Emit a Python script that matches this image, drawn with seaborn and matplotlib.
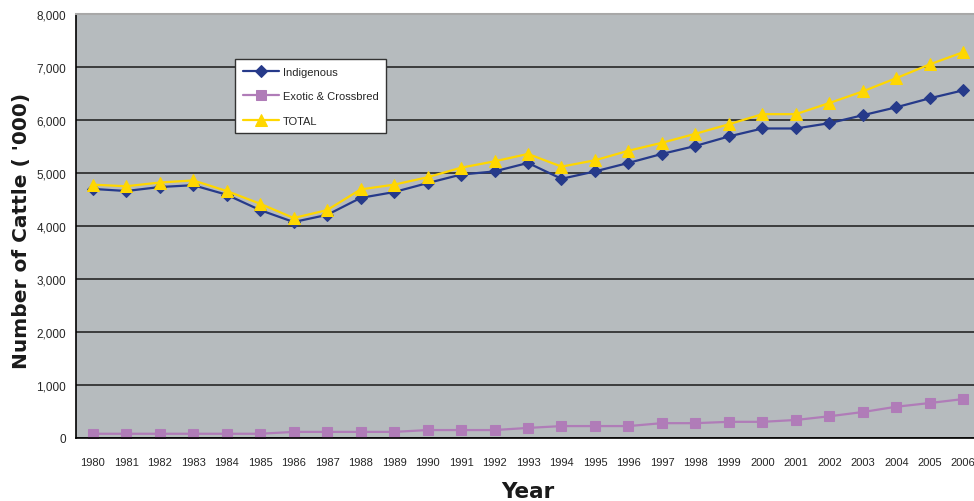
import matplotlib
matplotlib.use("Agg")
import matplotlib.pyplot as plt
import seaborn as sns
import pandas as pd
from matplotlib.ticker import FuncFormatter, FixedLocator

years = [str(y) for y in range(1980, 2007)]
indigenous = [4700, 4660, 4735, 4770, 4590, 4300, 4075, 4210, 4530, 4640, 4810, 4970, 5030, 5190,
              4890, 5030, 5190, 5360, 5510, 5690, 5840, 5840, 5940, 6090, 6240, 6410, 6560]
exotic = [80, 80, 80, 80, 80, 80, 115, 115, 115, 115, 150, 150, 150, 190,
          225, 225, 225, 280, 280, 305, 305, 340, 410, 490, 590, 660, 735]
total = [4780, 4750, 4820, 4860, 4660, 4420, 4150, 4300, 4690, 4780, 4920, 5100, 5220, 5360,
         5120, 5240, 5420, 5570, 5740, 5920, 6110, 6110, 6320, 6540, 6790, 7050, 7280]
series_names = ["Indigenous", "Exotic & Crossbred", "TOTAL"]

sns.set_style("white")
plt.rcParams['font.family'] = ['Liberation Sans', 'DejaVu Sans']

fig = plt.figure(figsize=(9.74, 5.02), dpi=100)
ax = fig.add_axes([76/974, 63/502, 904/974, 424/502])
ax.set_facecolor("#B6BBBE")

idx = list(range(len(years)))
styles = [
    (indigenous, "#263A8A", "D", 6.5, "#263A8A"),
    (exotic, "#B07CB8", "s", 7.5, "#B07CB8"),
    (total, "#FFD700", "^", 9, "#FFD700"),
]
for name, (vals, col, mk, ms, lc) in zip(series_names, styles):
    df = pd.DataFrame({"x": idx, "y": vals})
    sns.lineplot(data=df, x="x", y="y", ax=ax, color=lc, marker=mk, markersize=ms,
                 markerfacecolor=col, markeredgecolor=col, linewidth=1.6, label=name)

ax.set_xlim(-0.5, len(years) - 0.5)
ax.set_ylim(0, 8000)
ax.set_yticks(range(0, 8001, 1000))
ax.yaxis.set_major_formatter(FuncFormatter(lambda v, p: f"{int(v):,}"))
ax.grid(axis="y", color="#1a1a1a", linewidth=1.1)
ax.set_axisbelow(True)

ax.set_xticks(idx)
ax.set_xticklabels(years, fontsize=8)
ax.xaxis.set_minor_locator(FixedLocator([i - 0.5 for i in range(len(years) + 1)]))
ax.tick_params(axis="x", which="major", length=0, pad=14)
ax.tick_params(axis="x", which="minor", length=4, width=1, color="black", direction="out")
ax.tick_params(axis="y", which="major", length=4, width=1, color="black", direction="out", labelsize=8.5, pad=3)

for s in ["left", "bottom"]:
    ax.spines[s].set_color("black")
    ax.spines[s].set_linewidth(1.2)
ax.spines["top"].set_color("#A8A8A8")
ax.spines["top"].set_linewidth(1.5)
ax.spines["right"].set_visible(False)

ax.set_xlabel("Year", fontsize=15.5, fontweight="bold", family="DejaVu Sans", labelpad=10, color="#1a1a1a")
ax.set_ylabel("Number of Cattle ( '000)", fontsize=14.5, fontweight="bold", family="DejaVu Sans",
              color="#1a1a1a")
ax.yaxis.set_label_coords(-45/904, 0.49)

leg = ax.legend(loc="upper left", bbox_to_anchor=(159/904, (439 - 60) / 424), frameon=True,
                fancybox=False, fontsize=8, handlelength=3.3, borderpad=0.7, labelspacing=1.3,
                handletextpad=0.3, borderaxespad=0)
leg.get_frame().set_edgecolor("#333333")
leg.get_frame().set_linewidth(1.0)
leg.get_frame().set_facecolor("white")
leg.get_frame().set_alpha(1)

fig.savefig("out.png", dpi=100)
